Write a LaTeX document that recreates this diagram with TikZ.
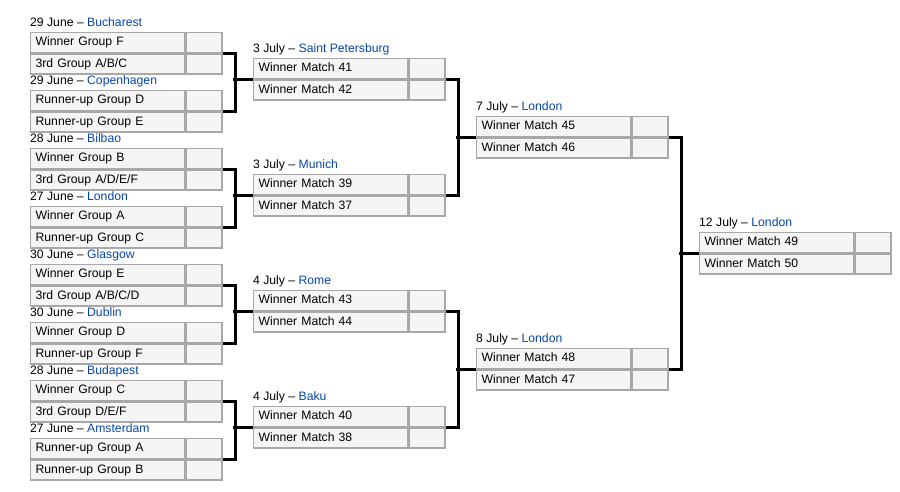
\documentclass[tikz,border=0pt]{standalone}
\usepackage{fontspec}
\setmainfont{Liberation Sans}
\definecolor{link}{HTML}{0645AD}
\definecolor{cellfill}{HTML}{F5F5F5}
\definecolor{cellline}{HTML}{A8A8A8}
\tikzset{
  cell/.style={draw=cellline, fill=cellfill, line width=1.3pt, minimum height=20pt,
    inner ysep=0pt, inner xsep=5pt, text height=9pt, text depth=2.5pt,
    anchor=north west, font=\fontsize{12.2}{14}\selectfont},
  team/.style={cell, text width=144pt, align=left},
  score/.style={cell, minimum width=36pt},
  lbl/.style={anchor=base west, inner sep=0pt, font=\fontsize{12.2}{14}\selectfont},
  conn/.style={line width=3pt, black}
}
\newcommand\bmatch[7]{%
  \node[team] (#1t1) at (#2,#3) {#6};
  \node[score] (#1s1) at (#1t1.north east) {};
  \node[team] (#1t2) at (#1t1.south west) {#7};
  \node[score] (#1s2) at (#1t2.north east) {};
  \node[lbl] (#1l) at (#2,#3-5.5) {#4 \textendash{} \textcolor{link}{#5}};
}
\begin{document}
\begin{tikzpicture}[x=1pt,y=-1pt]
\useasboundingbox (0,0) rectangle (900,492);
% Round of 16
\bmatch{ma}{30}{32}{29 June}{Bucharest}{Winner Group F}{3rd Group A/B/C}
\bmatch{mb}{30}{90}{29 June}{Copenhagen}{Runner-up Group D}{Runner-up Group E}
\bmatch{mc}{30}{148}{28 June}{Bilbao}{Winner Group B}{3rd Group A/D/E/F}
\bmatch{md}{30}{206}{27 June}{London}{Winner Group A}{Runner-up Group C}
\bmatch{me}{30}{264}{30 June}{Glasgow}{Winner Group E}{3rd Group A/B/C/D}
\bmatch{mf}{30}{322}{30 June}{Dublin}{Winner Group D}{Runner-up Group F}
\bmatch{mg}{30}{380}{28 June}{Budapest}{Winner Group C}{3rd Group D/E/F}
\bmatch{mh}{30}{438}{27 June}{Amsterdam}{Runner-up Group A}{Runner-up Group B}
% Quarter-finals
\bmatch{qa}{253}{58}{3 July}{Saint Petersburg}{Winner Match 41}{Winner Match 42}
\bmatch{qb}{253}{174}{3 July}{Munich}{Winner Match 39}{Winner Match 37}
\bmatch{qc}{253}{290}{4 July}{Rome}{Winner Match 43}{Winner Match 44}
\bmatch{qd}{253}{406}{4 July}{Baku}{Winner Match 40}{Winner Match 38}
% Semi-finals
\bmatch{sa}{476}{116}{7 July}{London}{Winner Match 45}{Winner Match 46}
\bmatch{sb}{476}{348}{8 July}{London}{Winner Match 48}{Winner Match 47}
% Final
\bmatch{fa}{699}{232}{12 July}{London}{Winner Match 49}{Winner Match 50}
% Connectors
\foreach \a/\b/\c in {ma/mb/qa, mc/md/qb, me/mf/qc, mg/mh/qd, qa/qb/sa, qc/qd/sb, sa/sb/fa}{
  \draw[conn] (\a s1.south east) -- ++(13,0) |- (\b s1.south east);
  \draw[conn] (\c t1.south west) -- ++(-20,0);
}
\end{tikzpicture}
\end{document}
